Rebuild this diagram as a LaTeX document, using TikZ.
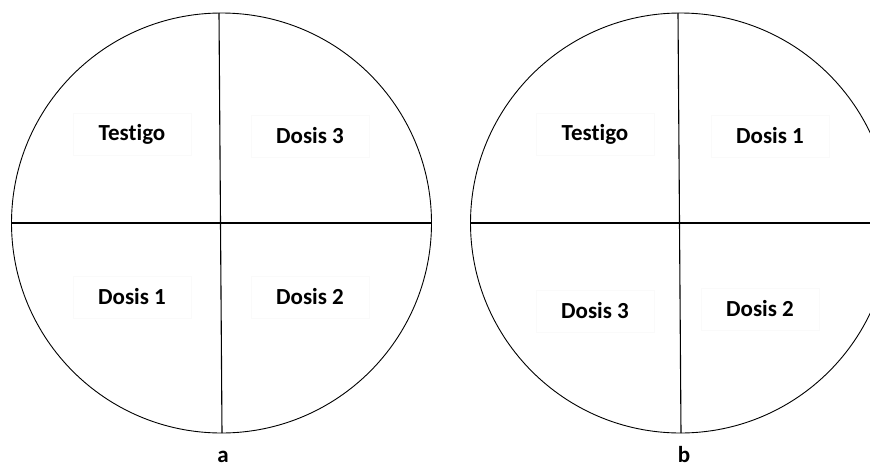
\documentclass[tikz,border=0pt]{standalone}
\usepackage{fontspec}
\setmainfont[Ligatures={NoCommon,NoDiscretionary}]{Carlito}
\begin{document}
\begin{tikzpicture}[x=1pt,y=-1pt,
  plate/.style={circle,draw=black,line width=0.9pt,minimum size=420pt,inner sep=0pt},
  divider/.style={draw=black,line width=1.1pt},
  lbl/.style={font=\fontsize{23}{27}\selectfont\bfseries,draw=black!2,line width=0.5pt,
    minimum width=118pt,minimum height=42pt,inner sep=0pt},
  caption/.style={font=\fontsize{23}{27}\selectfont\bfseries,inner sep=0pt}]
\useasboundingbox (0,0) rectangle (870,469);
\fill[white] (0,0) rectangle (870,469);

% plate a
\node[plate] (pa) at (221.5,223) {};
\coordinate (aN) at (219,13);
\coordinate (aS) at (222,433);
\draw[divider] (pa.west) -- (pa.east);
\draw[divider] (aN) -- (aS);
\node[lbl] (a1) at (132,134) {Testigo};
\node[lbl] (a2) at (310,136) {Dosis 3};
\node[lbl] (a3) at (132,297) {Dosis 1};
\node[lbl] (a4) at (310,297) {Dosis 2};
\node[caption,anchor=base] (capa) at (223,462) {a};

% plate b
\node[plate] (pb) at (680.5,223) {};
\coordinate (bN) at (678,13);
\coordinate (bS) at (681,433);
\draw[divider] (pb.west) -- (pb.east);
\draw[divider] (bN) -- (bS);
\node[lbl] (b1) at (595,134) {Testigo};
\node[lbl] (b2) at (770,136) {Dosis 1};
\node[lbl] (b3) at (595,311) {Dosis 3};
\node[lbl] (b4) at (760,309) {Dosis 2};
\node[caption,anchor=base] (capb) at (684,462) {b};
\end{tikzpicture}
\end{document}
